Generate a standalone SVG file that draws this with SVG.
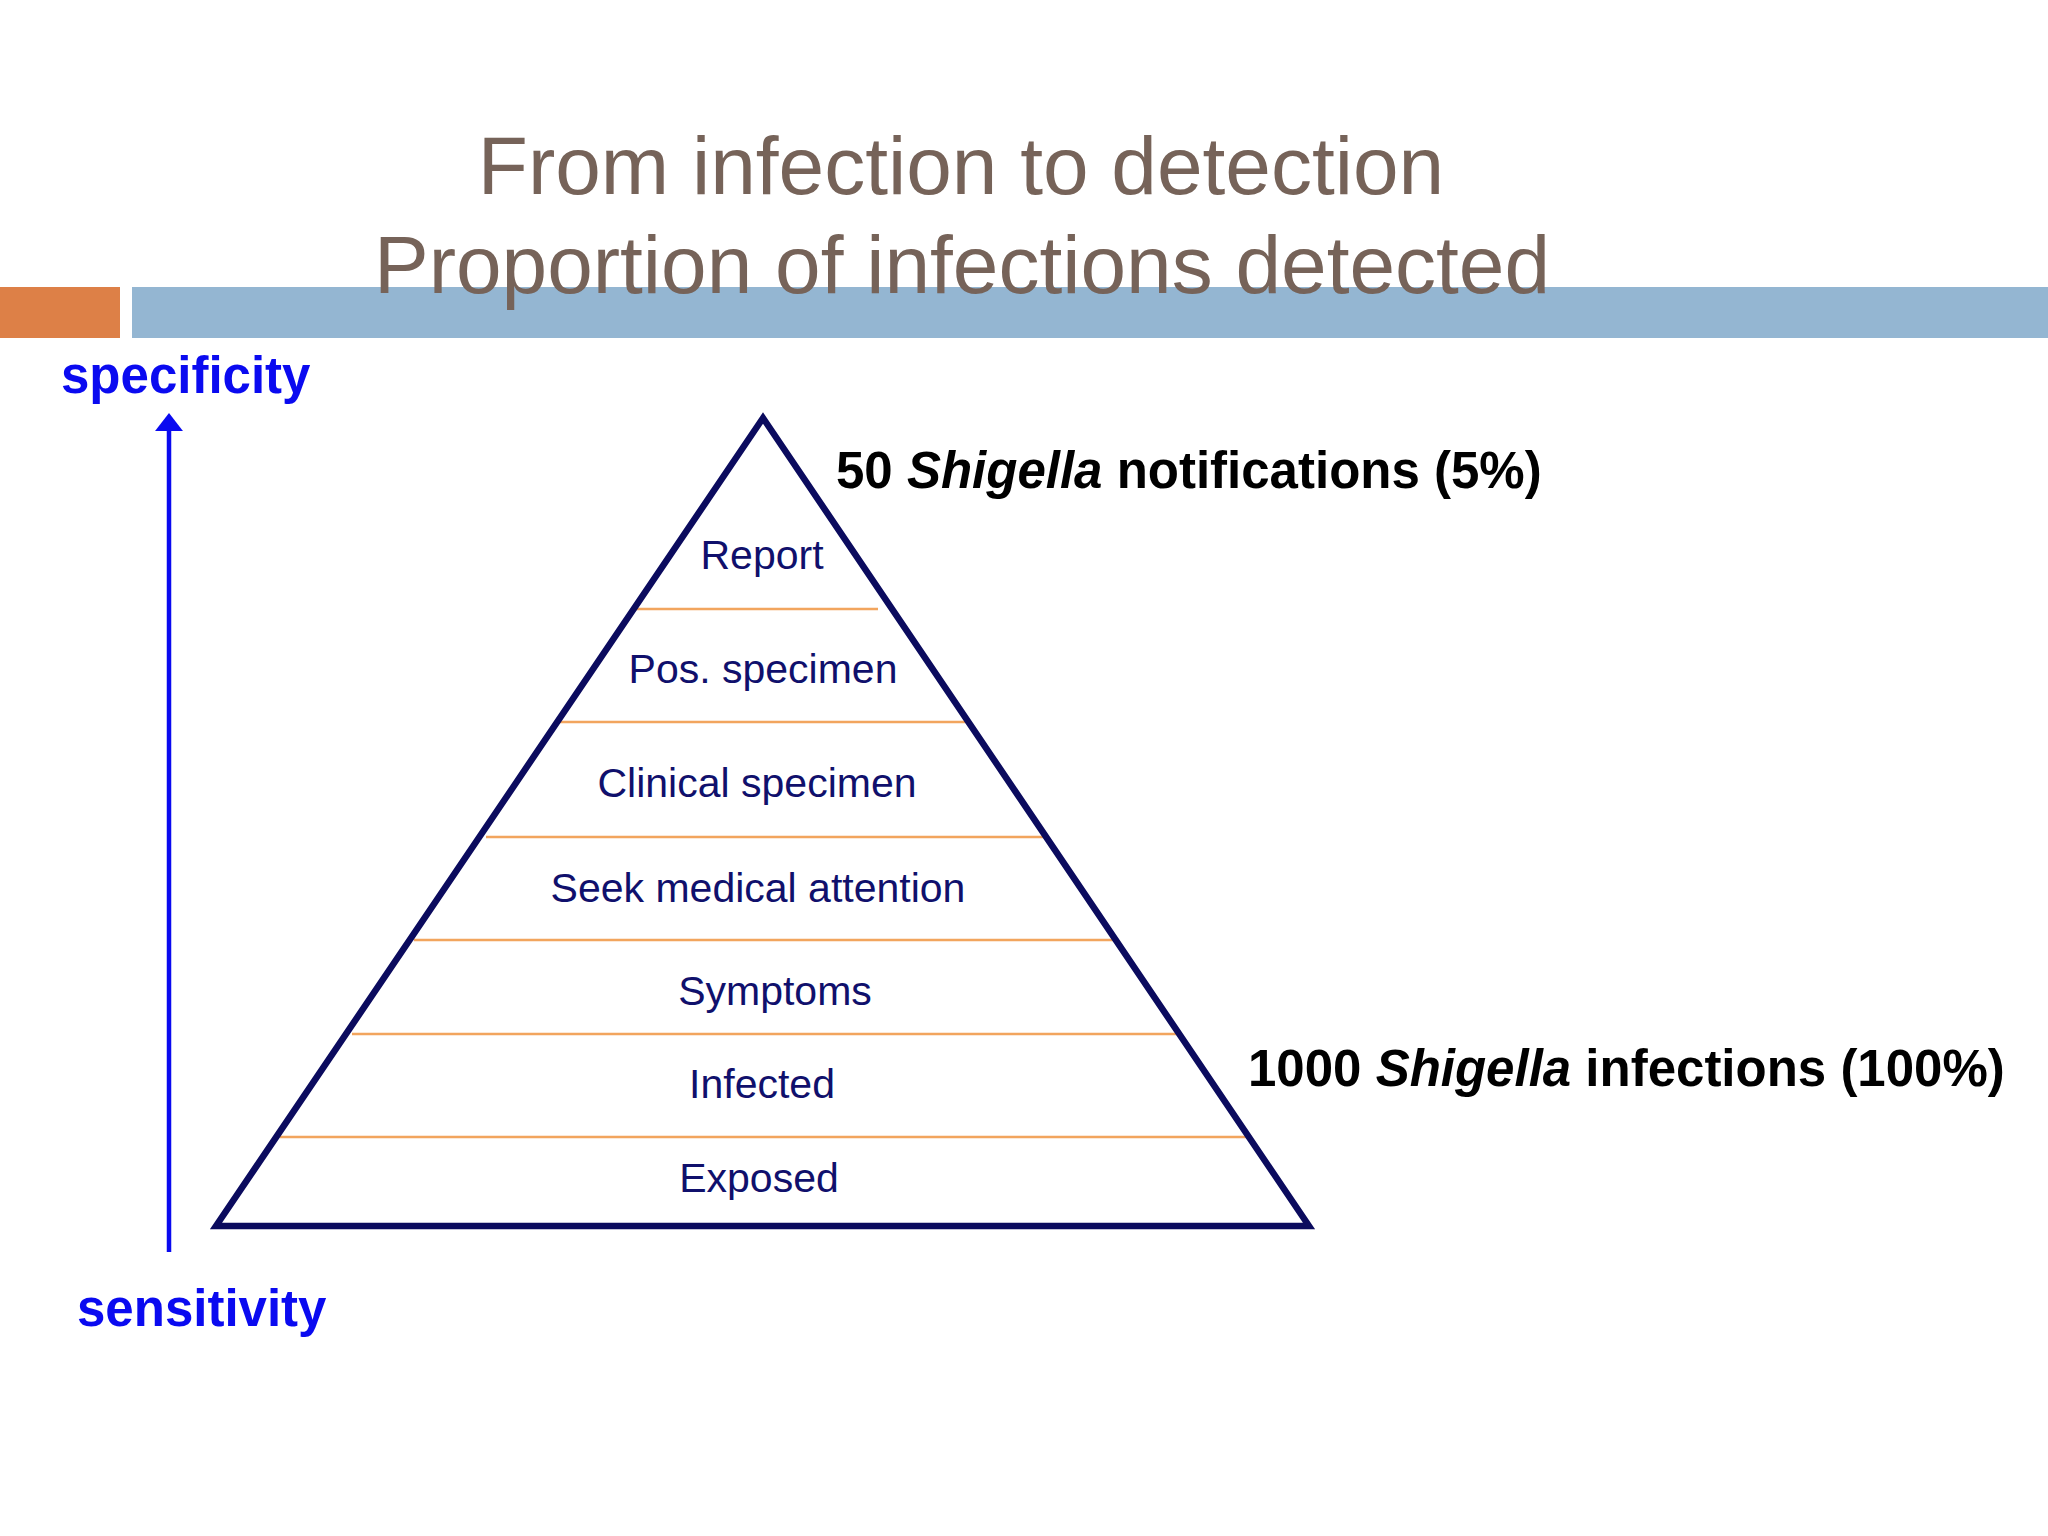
<svg xmlns="http://www.w3.org/2000/svg" width="2048" height="1536" viewBox="0 0 2048 1536">
<defs>
<style>
.title{font-family:"Liberation Sans",Arial,sans-serif;font-size:82px;fill:#766359;text-anchor:middle}
.lvl{font-family:"Liberation Sans",Arial,sans-serif;font-size:41px;fill:#10106C;text-anchor:middle}
.axis{font-family:"Liberation Sans",Arial,sans-serif;font-size:51px;font-weight:bold;fill:#0A0AF0}
.note{font-family:"Liberation Sans",Arial,sans-serif;font-size:51px;font-weight:bold;fill:#000}
.sep{stroke:#F2A55E;stroke-width:2.5;fill:none}
</style>
<marker id="ah" viewBox="0 0 10 16" refX="0" refY="8" markerWidth="4" markerHeight="6.2" markerUnits="strokeWidth" orient="auto" preserveAspectRatio="none">
<path d="M0,0 L10,8 L0,16 Z" fill="#0A0AF0"/>
</marker>
</defs>
<rect width="2048" height="1536" fill="#FFFFFF"/>
<g id="header">
<rect x="0" y="287" width="120" height="51" fill="#DD8047"/>
<rect x="132" y="287" width="1916" height="51" fill="#94B6D2"/>
<text class="title" x="961" y="194">From infection to detection</text>
<text class="title" x="962" y="293">Proportion of infections detected</text>
</g>
<g id="connectors">
<line x1="169" y1="1252" x2="169" y2="431" stroke="#0A0AF0" stroke-width="4.5" marker-end="url(#ah)"/>
</g>
<g id="axis-labels">
<text class="axis" x="61" y="393">specificity</text>
<text class="axis" x="77" y="1326">sensitivity</text>
</g>
<g id="pyramid">
<line class="sep" x1="635" y1="609" x2="878" y2="609"/>
<line class="sep" x1="555" y1="722" x2="966" y2="722"/>
<line class="sep" x1="486" y1="837" x2="1046" y2="837"/>
<line class="sep" x1="414" y1="940" x2="1116" y2="940"/>
<line class="sep" x1="352" y1="1034" x2="1180" y2="1034"/>
<line class="sep" x1="280" y1="1137" x2="1252" y2="1137"/>
<path d="M763,418 L216,1226 L1309,1226 Z" fill="none" stroke="#0B0B5E" stroke-width="6.5" stroke-linejoin="miter"/>
</g>
<g id="level-report"><text class="lvl" x="762" y="569">Report</text></g>
<g id="level-pos"><text class="lvl" x="763" y="683">Pos. specimen</text></g>
<g id="level-clinical"><text class="lvl" x="757" y="797">Clinical specimen</text></g>
<g id="level-seek"><text class="lvl" x="758" y="902">Seek medical attention</text></g>
<g id="level-symptoms"><text class="lvl" x="775" y="1005">Symptoms</text></g>
<g id="level-infected"><text class="lvl" x="762" y="1098">Infected</text></g>
<g id="level-exposed"><text class="lvl" x="759" y="1192">Exposed</text></g>
<g id="note-top"><text class="note" x="836" y="488">50 <tspan font-style="italic">Shigella</tspan> notifications (5%)</text></g>
<g id="note-bottom"><text class="note" x="1248" y="1086">1000 <tspan font-style="italic">Shigella</tspan> infections (100%)</text></g>
</svg>
